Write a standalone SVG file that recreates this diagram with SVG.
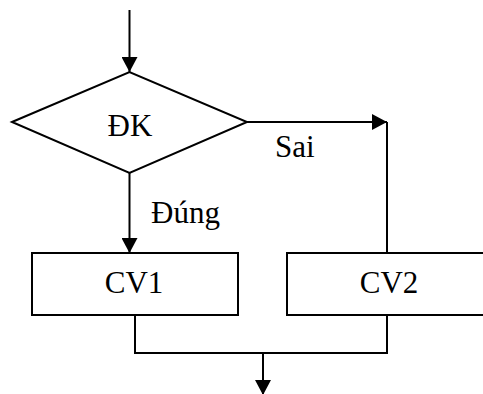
<svg xmlns="http://www.w3.org/2000/svg" width="483" height="394" viewBox="0 0 483 394">
<defs>
<style>
.s{fill:none;stroke:#000;stroke-width:2}
.b{fill:#fff;stroke:#000;stroke-width:2}
text{font-family:"Liberation Serif","Times New Roman",serif;font-size:31px;fill:#000}
.m{text-anchor:middle}
</style>
<marker id="ah" markerWidth="15" markerHeight="16" refX="15" refY="8" orient="auto" markerUnits="userSpaceOnUse">
<path d="M0,0 L15,8 L0,16 Z" fill="#000"/>
</marker>
</defs>
<g id="connectors">
<line class="s" x1="129.5" y1="10" x2="129.5" y2="72" marker-end="url(#ah)"/>
<line class="s" x1="247" y1="122" x2="387" y2="122" marker-end="url(#ah)"/>
<line class="s" x1="387" y1="122" x2="387" y2="253"/>
<line class="s" x1="129.5" y1="173" x2="129.5" y2="253" marker-end="url(#ah)"/>
<polyline class="s" points="135,315 135,353 387,353 387,315"/>
<line class="s" x1="263" y1="353" x2="263" y2="395" marker-end="url(#ah)"/>
<text x="275" y="157">Sai</text>
<text x="151" y="223">Đúng</text>
</g>
<g id="dk">
<polygon class="b" points="12,122 129.5,72 247,122 129.5,173"/>
<text class="m" x="130" y="136">ĐK</text>
</g>
<g id="cv1">
<rect class="b" x="32" y="253" width="206" height="62"/>
<text class="m" x="134" y="293">CV1</text>
</g>
<g id="cv2">
<rect class="b" x="287" y="253" width="210" height="62"/>
<text class="m" x="389" y="293">CV2</text>
</g>
</svg>
